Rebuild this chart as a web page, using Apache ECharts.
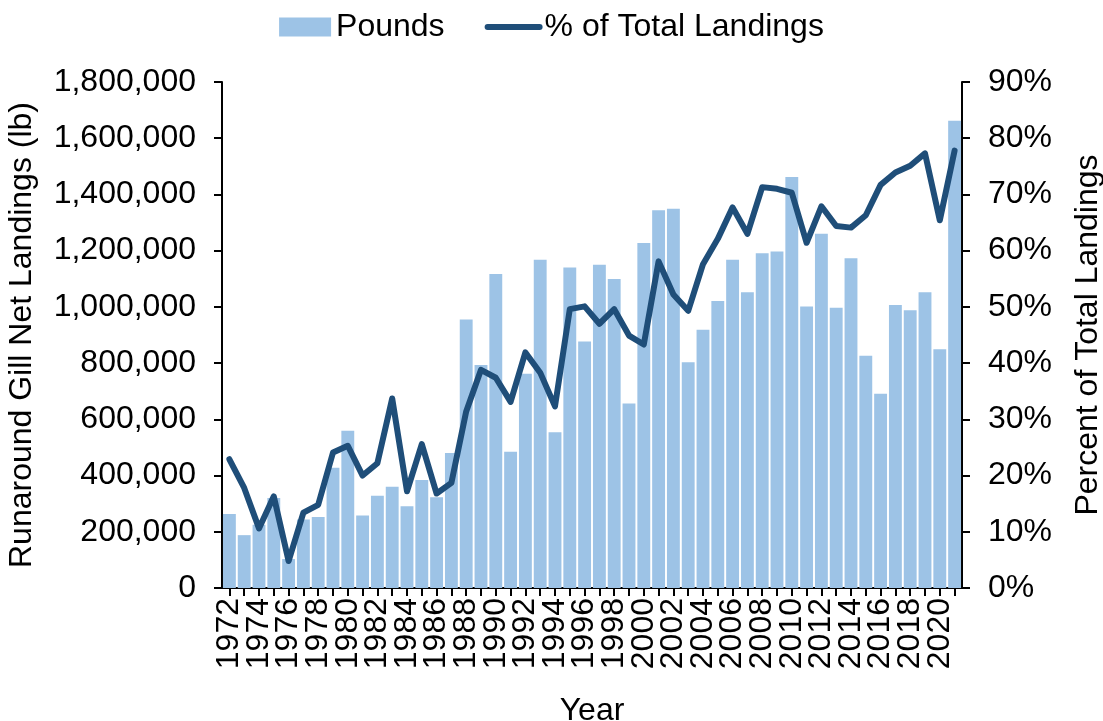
<!DOCTYPE html>
<html>
<head>
<meta charset="utf-8">
<script src="https://cdn.jsdelivr.net/npm/echarts@6/dist/echarts.min.js"></script>
<style>
html,body{margin:0;padding:0;background:#fff;}
#chart{width:1103px;height:721px;}
</style>
</head>
<body>
<div id="chart"></div>
<script>
const years = [];
for (let y = 1972; y <= 2021; y++) years.push(String(y));

const pounds = [
  263000, 188000, 225000, 320000, 103000, 244000, 253000, 428000, 559000, 258000,
  328000, 360000, 291000, 384000, 323000, 480000, 955000, 793000, 1117000, 485000,
  762000, 1168000, 554000, 1140000, 877000, 1150000, 1099000, 656000, 1227000, 1344000,
  1349000, 803000, 919000, 1021000, 1168000, 1052000, 1191000, 1197000, 1462000, 1001000,
  1260000, 997000, 1173000, 826000, 691000, 1007000, 988000, 1052000, 849000, 1662000
];

const pctTotal = [
  22.9, 17.8, 10.6, 16.3, 4.8, 13.4, 14.8, 24.1, 25.3, 20.0,
  22.2, 33.7, 17.2, 25.6, 16.8, 18.7, 31.4, 38.8, 37.4, 33.1,
  41.9, 38.3, 32.3, 49.6, 50.1, 47.0, 49.6, 44.9, 43.3, 58.1,
  52.2, 49.3, 57.6, 62.1, 67.7, 63.0, 71.3, 71.0, 70.3, 61.4,
  67.9, 64.4, 64.1, 66.3, 71.7, 73.9, 75.1, 77.3, 65.4, 77.8
];

const FONT = "'Liberation Sans', Arial, sans-serif";
const FS = 32;
const LINE_COLOR = '#1F4E79';
const BAR_COLOR = '#9DC3E6';

const chart = echarts.init(document.getElementById('chart'), null, {renderer: 'canvas'});
chart.setOption({
  animation: false,
  backgroundColor: '#ffffff',
  textStyle: {fontFamily: FONT, color: '#000'},
  legend: {
    top: 6,
    left: 'center',
    itemGap: 40,
    itemWidth: 52,
    itemHeight: 19,
    textStyle: {fontFamily: FONT, fontSize: FS, color: '#000'},
    data: [
      {name: 'Pounds', icon: 'rect'},
      {name: '% of Total Landings', itemStyle: {opacity: 0},
       lineStyle: {color: LINE_COLOR, width: 6, cap: 'round'}}
    ]
  },
  grid: {left: 222, right: 141, top: 82, bottom: 133, containLabel: false, outerBoundsMode: 'none'},
  xAxis: {
    type: 'category',
    data: years,
    name: 'Year',
    nameLocation: 'middle',
    nameGap: 107,
    nameTextStyle: {fontFamily: FONT, fontSize: FS, color: '#000'},
    boundaryGap: true,
    axisLine: {lineStyle: {color: '#000', width: 2}},
    axisTick: {show: true, alignWithLabel: true, interval: 0, length: 8, lineStyle: {color: '#000', width: 2}},
    axisLabel: {
      interval: 0, rotate: 90, fontFamily: FONT, fontSize: FS, color: '#000', margin: 10,
      showMinLabel: true, showMaxLabel: false, hideOverlap: false,
      formatter: (v, i) => (i % 2 === 0 ? v : '')
    }
  },
  yAxis: [
    {
      type: 'value',
      min: 0, max: 1800000, interval: 200000,
      name: 'Runaround Gill Net Landings (lb)',
      nameLocation: 'middle',
      nameGap: 184,
      nameRotate: 90,
      nameTextStyle: {fontFamily: FONT, fontSize: FS, color: '#000'},
      axisLine: {show: true, lineStyle: {color: '#000', width: 2}},
      axisTick: {show: true, length: 8, lineStyle: {color: '#000', width: 2}},
      splitLine: {show: false},
      axisLabel: {
        fontFamily: FONT, fontSize: FS, color: '#000', margin: 26,
        formatter: v => v.toLocaleString('en-US')
      }
    },
    {
      type: 'value',
      min: 0, max: 90, interval: 10,
      position: 'right',
      name: 'Percent of Total Landings',
      nameLocation: 'middle',
      nameGap: 110,
      nameRotate: 90,
      nameTextStyle: {fontFamily: FONT, fontSize: FS, color: '#000'},
      axisLine: {show: true, lineStyle: {color: '#000', width: 2}},
      axisTick: {show: true, length: 8, lineStyle: {color: '#000', width: 2}},
      splitLine: {show: false},
      axisLabel: {fontFamily: FONT, fontSize: FS, color: '#000', margin: 26, formatter: '{value}%'}
    }
  ],
  series: [
    {
      name: 'Pounds',
      type: 'bar',
      data: pounds,
      yAxisIndex: 0,
      barCategoryGap: '13%',
      itemStyle: {color: BAR_COLOR}
    },
    {
      name: '% of Total Landings',
      type: 'line',
      data: pctTotal,
      yAxisIndex: 1,
      symbol: 'none',
      lineStyle: {color: LINE_COLOR, width: 6, cap: 'round', join: 'round'},
      itemStyle: {color: LINE_COLOR}
    }
  ]
});
</script>
</body>
</html>
